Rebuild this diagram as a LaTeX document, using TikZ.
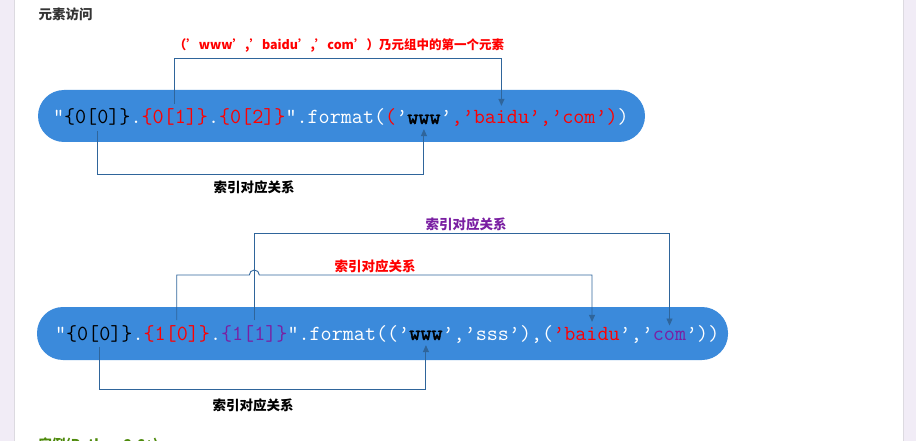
\documentclass[tikz,border=0pt]{standalone}
\usepackage{fontspec}
\usetikzlibrary{arrows.meta}
\newfontfamily\cjk{Noto Sans CJK SC}
\newfontfamily\codebold[FakeBold=2]{Latin Modern Mono}
\definecolor{pillblue}{HTML}{3B8ADB}
\definecolor{linkblue}{HTML}{2F659B}
\definecolor{codered}{HTML}{FF0000}
\definecolor{codepurple}{HTML}{7A1FA2}
\definecolor{pagegray}{HTML}{F1ECF6}
\definecolor{rulegray}{HTML}{DCDAE0}
\definecolor{titlegray}{HTML}{333333}
\definecolor{exgreen}{HTML}{4E8A0C}
\newcommand{\code}{\ttfamily\fontsize{21.5}{21.5}\selectfont}
\newcommand{\lblfont}{\cjk\bfseries\fontsize{13.5}{13.5}\selectfont}

\begin{document}
\begin{tikzpicture}[x=1pt, y=-1pt,
    pill/.style={fill=pillblue, rounded corners=26pt, inner sep=0pt},
    tok/.style={inner xsep=0pt, inner ysep=5pt, outer sep=0pt, anchor=base west, font=\code, text=white},
    link/.style={draw=linkblue, line width=0.9pt},
    tip/.style={-{Triangle[length=7pt, width=6pt]}},
    lbl/.style={font=\lblfont, text=black}]
        \path[use as bounding box, clip] (0,0) rectangle (916,441);
        % page margins
        \fill[pagegray] (0,0) rectangle (14,441);
        \fill[pagegray] (903,0) rectangle (916,441);
        \draw[rulegray] (14,0) -- (14,441);
        \draw[rulegray] (903,0) -- (903,441);
        \node[lbl, text=titlegray, anchor=west] (title) at (35,14) {元素访问};

        % first example
        \node[pill, minimum width=607pt, minimum height=52pt] (pill1) at (341.5,116) {};
        \node[tok] (p1q) at (53,124) {”};
        \node[tok, text=black] (p1a) at (p1q.base east) {\{0[0]\}};
        \node[tok] (p1d) at (p1a.base east) {.};
        \node[tok, text=codered] (p1b) at (p1d.base east) {\{0[1]\}};
        \node[tok] (p1e) at (p1b.base east) {.};
        \node[tok, text=codered] (p1c) at (p1e.base east) {\{0[2]\}};
        \node[tok] (p1f) at (p1c.base east) {”.format(};
        \node[tok, text=codered] (p1o) at (p1f.base east) {(};
        \node[tok] (p1s) at (p1o.base east) {’};
        \node[tok, text=black, font=\codebold\fontsize{21.5}{21.5}\selectfont] (p1w) at (p1s.base east) {www};
        \node[tok] (p1g) at (p1w.base east) {’};
        \node[tok, text=codered] (p1h) at (p1g.base east) {,’};
        \node[tok, text=codered] (p1baidu) at (p1h.base east) {baidu};
        \node[tok, text=codered] (p1r) at (p1baidu.base east) {’,’com’)};
        \node[tok] (p1z) at (p1r.base east) {)};

        \coordinate (up1) at (0,58);
        \coordinate (dn1) at (0,174);
        \draw[link, tip] (p1b.north) -- (p1b.north |- up1) -| (p1baidu.north);
        \draw[link, tip] (p1a.south) -- (p1a.south |- dn1) -| (p1w.south);
        \node[lbl, text=codered, font=\cjk\bfseries\fontsize{12.5}{12.5}\selectfont] (note1) at (339,46) {（’www’,’baidu’,’com’）乃元组中的第一个元素};
        \node[lbl] (map1) at (254,187) {索引对应关系};

        % second example
        \node[pill, minimum width=691pt, minimum height=53pt] (pill2) at (382.5,333.5) {};
        \node[tok] (p2q) at (55,340) {”};
        \node[tok, text=black] (p2a) at (p2q.base east) {\{0[0]\}};
        \node[tok] (p2d) at (p2a.base east) {.};
        \node[tok, text=codered] (p2b) at (p2d.base east) {\{1[0]\}};
        \node[tok] (p2e) at (p2b.base east) {.};
        \node[tok, text=codepurple] (p2c) at (p2e.base east) {\{1[1]\}};
        \node[tok] (p2f) at (p2c.base east) {”.format((’};
        \node[tok, text=black, font=\codebold\fontsize{21.5}{21.5}\selectfont] (p2w) at (p2f.base east) {www};
        \node[tok] (p2g) at (p2w.base east) {’,’sss’),(};
        \node[tok, text=codered] (p2s) at (p2g.base east) {’};
        \node[tok, text=codered] (p2baidu) at (p2s.base east) {baidu};
        \node[tok] (p2h) at (p2baidu.base east) {’,’};
        \node[tok, text=codepurple] (p2com) at (p2h.base east) {com};
        \node[tok] (p2z) at (p2com.base east) {’))};

        \coordinate (up2) at (0,233);
        \coordinate (up3) at (0,275);
        \coordinate (dn2) at (0,389);
        \coordinate (hop) at (p2c.north |- up3);
        \draw[link, tip] (p2c.north) -- (p2c.north |- up2) -| (p2com.north);
        \draw[link, tip] (p2b.north) -- (p2b.north |- up3) -- ([xshift=-5pt]hop)
            arc[start angle=180, end angle=360, radius=5] -| (p2baidu.north);
        \draw[link, tip] (p2a.south) -- (p2a.south |- dn2) -| (p2w.south);
        \node[lbl, text=codepurple] (map2) at (466,224) {索引对应关系};
        \node[lbl, text=codered] (map3) at (375,266) {索引对应关系};
        \node[lbl] (map4) at (253,405) {索引对应关系};

        \node[lbl, text=exgreen, anchor=north west] (example) at (35,434) {实例(Python 2.6+):};
    \end{tikzpicture}
\end{document}
